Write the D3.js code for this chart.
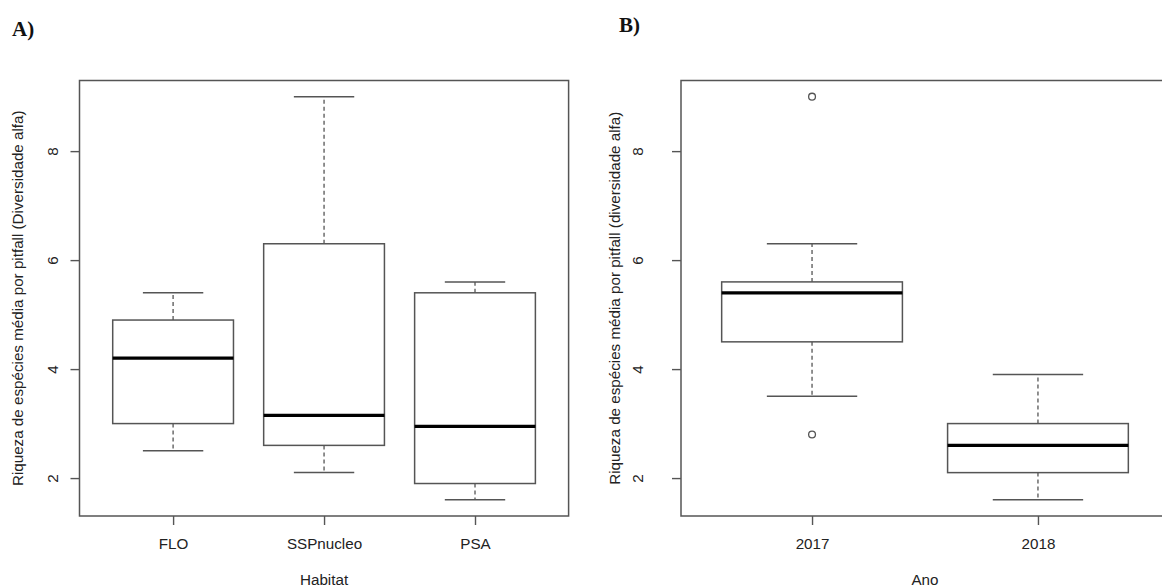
<!DOCTYPE html>
<html>
<head>
<meta charset="utf-8">
<script src="https://cdn.jsdelivr.net/npm/d3@7"></script>
<style>
  body { margin: 0; background: #fff; overflow: hidden; }
  svg text { font-family: "Liberation Sans", Arial, sans-serif; fill: #222; }
  .panel-tag { font-family: "Liberation Serif", "Times New Roman", serif; font-weight: bold; fill: #111; }
</style>
</head>
<body>
<div id="chart"></div>
<script>
// Panel A - habitat boxplot stats
const habitats = ["FLO", "SSPnucleo", "PSA"];
const habitatLow = [2.5, 2.1, 1.6];
const habitatQ1 = [3.0, 2.6, 1.9];
const habitatMedian = [4.2, 3.15, 2.95];
const habitatQ3 = [4.9, 6.3, 5.4];
const habitatHigh = [5.4, 9.0, 5.6];
const habitatOutliers = [[], [], []];

// Panel B - year boxplot stats
const years = ["2017", "2018"];
const yearLow = [3.5, 1.6];
const yearQ1 = [4.5, 2.1];
const yearMedian = [5.4, 2.6];
const yearQ3 = [5.6, 3.0];
const yearHigh = [6.3, 3.9];
const yearOutliers = [[9.0, 2.8], []];

const yTicks = [2, 4, 6, 8];

const W = 1162, H = 587;
const plotTop = 80.5, plotBottom = 516;
const fontSize = "15.2px";

const svg = d3.select("#chart").append("svg")
    .attr("width", W)
    .attr("height", H);

function buildStats(cats, low, q1, med, q3, high, outs) {
    return cats.map((c, i) => ({
        key: c, low: low[i], q1: q1[i], med: med[i], q3: q3[i], high: high[i], outs: outs[i]
    }));
}

function drawPanel(opts) {
    const data = opts.data;
    const n = data.length;

    // R style: 4% extension of the data range
    const vals = data.flatMap(d => [d.low, d.high, ...d.outs]);
    const lo = d3.min(vals), hi = d3.max(vals);
    const pad = (hi - lo) * 0.04;
    const y = d3.scaleLinear().domain([lo - pad, hi + pad]).range([plotBottom, plotTop]);

    const xPad = n * 0.04;
    const x = d3.scaleLinear().domain([0.5 - xPad, n + 0.5 + xPad]).range([opts.left, opts.right]);

    const g = svg.append("g");
    const lineCol = "#555";

    // plot frame
    g.append("rect")
        .attr("x", opts.left).attr("y", plotTop)
        .attr("width", opts.right - opts.left).attr("height", plotBottom - plotTop)
        .attr("fill", "none").attr("stroke", lineCol).attr("stroke-width", 1.5);

    // y axis
    const yAxis = g.append("g")
        .attr("transform", `translate(${opts.left},0)`)
        .call(d3.axisLeft(y).tickValues(yTicks).tickSize(9).tickFormat(d3.format("d")));
    yAxis.select(".domain").remove();
    yAxis.attr("font-family", null).attr("font-size", null);
    yAxis.selectAll(".tick line").attr("stroke", lineCol).attr("stroke-width", 1.4);
    yAxis.selectAll(".tick text")
        .attr("x", 0)
        .attr("y", -opts.tickLabelDist)
        .attr("dy", "0.35em")
        .attr("transform", "rotate(-90)")
        .attr("text-anchor", "middle")
        .style("font-size", fontSize)
        .attr("fill", "#222");

    // x axis ticks at category positions
    const xAxis = g.append("g")
        .attr("transform", `translate(0,${plotBottom})`)
        .call(d3.axisBottom(x).tickValues(d3.range(1, n + 1)).tickSize(9)
            .tickFormat(i => data[i - 1].key));
    xAxis.select(".domain").remove();
    xAxis.attr("font-family", null).attr("font-size", null);
    xAxis.selectAll(".tick line").attr("stroke", lineCol).attr("stroke-width", 1.4);
    xAxis.selectAll(".tick text")
        .attr("y", 28).attr("dy", "0.35em")
        .style("font-size", fontSize)
        .attr("fill", "#222");

    // boxes
    const bw = 0.8, cw = 0.4;
    const box = g.selectAll(".box").data(data).join("g").attr("class", "box");

    // whiskers (dashed)
    box.append("line")
        .attr("x1", (d, i) => x(i + 1)).attr("x2", (d, i) => x(i + 1))
        .attr("y1", d => y(d.q3)).attr("y2", d => y(d.high))
        .attr("stroke", lineCol).attr("stroke-width", 1.3).attr("stroke-dasharray", "4,3");
    box.append("line")
        .attr("x1", (d, i) => x(i + 1)).attr("x2", (d, i) => x(i + 1))
        .attr("y1", d => y(d.q1)).attr("y2", d => y(d.low))
        .attr("stroke", lineCol).attr("stroke-width", 1.3).attr("stroke-dasharray", "4,3");

    // caps
    ["high", "low"].forEach(k => {
        box.append("line")
            .attr("x1", (d, i) => x(i + 1 - cw / 2)).attr("x2", (d, i) => x(i + 1 + cw / 2))
            .attr("y1", d => y(d[k])).attr("y2", d => y(d[k]))
            .attr("stroke", lineCol).attr("stroke-width", 1.5);
    });

    box.append("rect")
        .attr("x", (d, i) => x(i + 1 - bw / 2))
        .attr("width", (d, i) => x(i + 1 + bw / 2) - x(i + 1 - bw / 2))
        .attr("y", d => y(d.q3))
        .attr("height", d => y(d.q1) - y(d.q3))
        .attr("fill", "#fff").attr("stroke", lineCol).attr("stroke-width", 1.5);

    box.append("line")
        .attr("x1", (d, i) => x(i + 1 - bw / 2)).attr("x2", (d, i) => x(i + 1 + bw / 2))
        .attr("y1", d => y(d.med)).attr("y2", d => y(d.med))
        .attr("stroke", "#000").attr("stroke-width", 3.2);

    // outliers
    box.each(function (d, i) {
        d3.select(this).selectAll("circle").data(d.outs).join("circle")
            .attr("cx", x(i + 1)).attr("cy", v => y(v))
            .attr("r", 3.4)
            .attr("fill", "none").attr("stroke", lineCol).attr("stroke-width", 1.3);
    });

    // axis titles
    g.append("text")
        .attr("transform", `translate(${opts.yTitleX},${(plotTop + plotBottom) / 2}) rotate(-90)`)
        .attr("text-anchor", "middle")
        .attr("dy", "0.35em")
        .style("font-size", fontSize)
        .text(opts.yTitle);

    g.append("text")
        .attr("x", (opts.left + opts.right) / 2)
        .attr("y", 580)
        .attr("dy", "0.35em")
        .attr("text-anchor", "middle")
        .style("font-size", fontSize)
        .text(opts.xTitle);

    svg.append("text")
        .attr("class", "panel-tag")
        .attr("x", opts.tagX).attr("y", opts.tagY)
        .style("font-size", "21px")
        .text(opts.tag);
}

drawPanel({
    data: buildStats(habitats, habitatLow, habitatQ1, habitatMedian, habitatQ3, habitatHigh, habitatOutliers),
    left: 79.5, right: 568.6,
    tickLabelDist: 26.5,
    yTitleX: 17.5,
    yTitle: "Riqueza de espécies média por pitfall (Diversidade alfa)",
    xTitle: "Habitat",
    tag: "A)", tagX: 12, tagY: 36
});

drawPanel({
    data: buildStats(years, yearLow, yearQ1, yearMedian, yearQ3, yearHigh, yearOutliers),
    left: 681, right: 1169,
    tickLabelDist: 43,
    yTitleX: 615,
    yTitle: "Riqueza de espécies média por pitfall (diversidade alfa)",
    xTitle: "Ano",
    tag: "B)", tagX: 619, tagY: 32
});
</script>
</body>
</html>
